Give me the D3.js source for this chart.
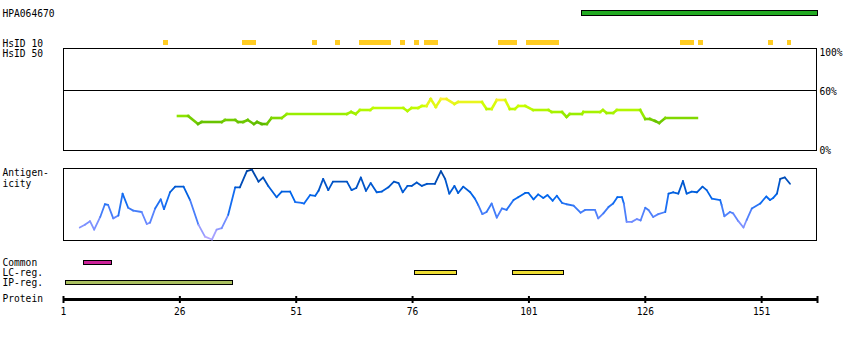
<!DOCTYPE html>
<html>
<head>
<meta charset="utf-8">
<script src="https://cdn.jsdelivr.net/npm/d3@7"></script>
<style>
  body { margin: 0; background: #fff; }
  text { font-family: "DejaVu Sans Mono", monospace; font-size: 9.6px; fill: #000; }
  .crisp { shape-rendering: crispEdges; }
</style>
</head>
<body>
<div id="chart"></div>
<script>
// protein length and tick labels
var proteinLength = 163;
var tickResidues = [1, 26, 51, 76, 101, 126, 151];

// antibody target region (HPA064670)
var hpaRegion = [113, 163];

// HsID 10 stretches (start, end residue)
var hsid10Start = [23, 40, 55, 60, 65, 74, 77, 79, 95, 101, 134, 138, 153, 157];
var hsid10End   = [23, 42, 55, 60, 71, 74, 77, 81, 98, 107, 136, 138, 153, 157];

// region tracks
var commonRegions = [[6, 11]];
var lcRegions = [[77, 85], [98, 108]];
var ipRegions = [[2, 37]];

// identity (%) along the sequence
var identityPos = [25.7, 27.9, 30.0, 30.8, 35.1, 35.8, 38.0, 38.6, 39.7, 40.7, 42.0, 42.7, 43.7, 44.8,
  45.8, 48.0, 49.1, 62.0, 62.9, 63.9, 64.8, 67.0, 67.6, 74.1, 75.0, 75.9, 77.3, 78.1, 79.1, 80.0,
  81.1, 82.2, 83.4, 85.1, 85.9, 91.0, 92.0, 93.1, 94.2, 96.0, 97.0, 98.1, 98.8, 100.3, 102.0,
  105.3, 106.0, 108.2, 109.2, 109.9, 112.5, 112.8, 116.4, 117.0, 117.8, 119.2, 120.0, 125.0,
  126.1, 127.1, 128.2, 129.1, 130.4, 137.2];
var identityVal = [34, 34, 26, 28, 28, 30, 30, 28, 28, 30, 26, 28, 26, 26,
  32, 32, 36, 36, 38, 36, 40, 40, 42, 42, 39, 42, 42, 44, 44, 51,
  43, 51, 51, 46, 48, 48, 41, 41, 50, 50, 41, 41, 44, 44, 40,
  40, 38, 38, 33, 36, 36, 38, 38, 40, 37, 37, 40, 40,
  31, 31, 29, 27, 32, 32];

// antigenicity score (0-100) along the sequence
var antigenPos = [4.6, 5.7, 6.8, 7.7, 9.0, 10.0, 10.7, 11.8, 12.9, 13.8, 15.0, 16.1, 17.9, 19.0, 19.7,
  20.8, 22.0, 22.7, 24.0, 25.1, 26.9, 28.3, 30.1, 31.5, 33.0, 34.0, 35.1, 36.5, 38.0, 39.0,
  40.5, 41.6, 43.0, 44.0, 45.1, 46.9, 48.0, 49.8, 50.9, 52.3, 52.8, 54.1, 55.2, 55.9, 56.9,
  58.0, 59.0, 62.0, 63.0, 64.0, 65.0, 66.1, 67.1, 68.4, 69.5, 70.9, 72.1, 73.1, 74.0, 75.0,
  75.9, 77.0, 78.1, 79.2, 80.9, 82.2, 83.1, 84.0, 85.1, 85.9, 87.0, 88.5, 89.5, 90.2, 91.1,
  92.0, 93.1, 94.2, 95.3, 96.3, 97.8, 98.8, 100.3, 101.0, 102.1, 103.1, 104.2, 105.1, 106.2,
  107.1, 108.2, 109.2, 110.7, 112.2, 113.2, 115.3, 116.0, 117.1, 118.2, 119.2, 120.1, 121.1,
  121.5, 122.1, 123.2, 124.3, 125.1, 126.1, 126.8, 127.8, 128.9, 130.4, 131.1, 132.1, 133.2,
  134.2, 135.0, 136.1, 137.2, 138.4, 139.3, 140.4, 142.2, 142.5, 143.1, 144.3, 145.0, 146.1,
  147.2, 147.9, 149.0, 150.8, 152.1, 152.9, 153.6, 154.4, 155.1, 156.1, 157.2];
var antigenVal = [17, 21, 26, 14, 32, 50, 49, 30, 34, 65, 45, 41, 39, 22, 24,
  44, 57, 43, 67, 75, 75, 56, 21, 4, 0, 14, 16, 35, 74, 74,
  97, 99, 82, 88, 76, 60, 68, 68, 53, 52, 51, 63, 62, 69, 86,
  70, 82, 82, 70, 73, 88, 69, 80, 67, 68, 74, 82, 80, 67, 76,
  76, 81, 76, 79, 79, 97, 86, 65, 76, 66, 75, 67, 58, 49, 36,
  39, 51, 31, 44, 42, 56, 60, 66, 66, 57, 64, 59, 63, 55,
  62, 52, 50, 48, 38, 42, 42, 30, 37, 46, 51, 60, 60,
  51, 25, 25, 29, 27, 45, 42, 32, 36, 39, 65, 67, 65,
  83, 65, 68, 67, 75, 70, 58, 56, 49, 33, 39, 37, 26,
  17, 28, 44, 51, 61, 56, 59, 65, 86, 88, 79];

var svg = d3.select("#chart").append("svg")
  .attr("width", 850)
  .attr("height", 340);

var x = d3.scaleLinear().domain([1, proteinLength]).range([63, 817]);
var yId = d3.scaleLinear().domain([0, 100]).range([150, 50]);
var yAg = d3.scaleLinear().domain([0, 100]).range([239.5, 169]);

var idColor = d3.scaleLinear()
  .domain([26, 36, 44, 51])
  .range(["#5cb800", "#99ee00", "#ccff00", "#ffee33"]);
var agColor = d3.scaleLinear()
  .domain([0, 30, 60, 100])
  .range(["#b8a8ff", "#6688ff", "#0066ee", "#003f99"]);

// left labels
var labels = [
  ["HPA064670", 16.5], ["HsID 10", 46.5], ["HsID 50", 56.5],
  ["Antigen-", 176], ["icity", 186.5],
  ["Common", 266], ["LC-reg.", 276], ["IP-reg.", 286], ["Protein", 302]
];
svg.selectAll("text.lbl").data(labels).enter().append("text")
  .attr("class", "lbl")
  .attr("x", 2.5)
  .attr("y", d => d[1])
  .text(d => d[0]);

// HPA bar
svg.append("rect")
  .attr("class", "crisp")
  .attr("x", x(hpaRegion[0] - 0.5))
  .attr("y", 10.5)
  .attr("width", x(hpaRegion[1]) - x(hpaRegion[0] - 0.5))
  .attr("height", 4.5)
  .attr("fill", "#22aa22")
  .attr("stroke", "#000")
  .attr("stroke-width", 1);

// HsID 10 bars
svg.selectAll("rect.hsid").data(hsid10Start).enter().append("rect")
  .attr("class", "hsid crisp")
  .attr("x", d => x(d - 0.5))
  .attr("y", 40)
  .attr("width", (d, i) => x(hsid10End[i] + 0.5) - x(d - 0.5))
  .attr("height", 4.5)
  .attr("fill", "#ffcc22");

// identity panel
svg.append("rect")
  .attr("class", "crisp")
  .attr("x", 63.5).attr("y", 48.5)
  .attr("width", 753).attr("height", 101.5)
  .attr("fill", "none").attr("stroke", "#000").attr("stroke-width", 1);
svg.append("line")
  .attr("class", "crisp")
  .attr("x1", 63.5).attr("x2", 816.5)
  .attr("y1", 90.5).attr("y2", 90.5)
  .attr("stroke", "#000").attr("stroke-width", 1);
svg.selectAll("text.pct").data([[100, 55.5], [60, 95], [0, 154]]).enter().append("text")
  .attr("class", "pct")
  .attr("x", 819.5)
  .attr("y", d => d[1])
  .text(d => d[0] + "%");

var idSegs = d3.pairs(d3.range(identityPos.length));
svg.append("g").selectAll("line").data(idSegs).enter().append("line")
  .attr("x1", d => x(identityPos[d[0]]))
  .attr("y1", d => yId(identityVal[d[0]]))
  .attr("x2", d => x(identityPos[d[1]]))
  .attr("y2", d => yId(identityVal[d[1]]))
  .attr("stroke", d => idColor((identityVal[d[0]] + identityVal[d[1]]) / 2))
  .attr("stroke-width", 2.6)
  .attr("stroke-linecap", "square");

// antigenicity panel
svg.append("rect")
  .attr("class", "crisp")
  .attr("x", 63.5).attr("y", 168.5)
  .attr("width", 753).attr("height", 71.5)
  .attr("fill", "none").attr("stroke", "#000").attr("stroke-width", 1);

var agSegs = d3.pairs(d3.range(antigenPos.length));
svg.append("g").selectAll("line").data(agSegs).enter().append("line")
  .attr("x1", d => x(antigenPos[d[0]]))
  .attr("y1", d => yAg(antigenVal[d[0]]))
  .attr("x2", d => x(antigenPos[d[1]]))
  .attr("y2", d => yAg(antigenVal[d[1]]))
  .attr("stroke", d => agColor((antigenVal[d[0]] + antigenVal[d[1]]) / 2))
  .attr("stroke-width", 1.8)
  .attr("stroke-linecap", "round");

// region tracks
function drawRegions(data, yPos, fill) {
  svg.append("g").selectAll("rect").data(data).enter().append("rect")
    .attr("class", "crisp")
    .attr("x", d => x(d[0] - 0.5))
    .attr("y", yPos)
    .attr("width", d => x(d[1] + 0.5) - x(d[0] - 0.5))
    .attr("height", 4)
    .attr("fill", fill)
    .attr("stroke", "#000")
    .attr("stroke-width", 1);
}
drawRegions(commonRegions, 260.5, "#cc2299");
drawRegions(lcRegions, 270.5, "#eedd33");
drawRegions(ipRegions, 280.5, "#aac060");

// protein axis
var axis = d3.axisBottom(x)
  .tickValues(tickResidues.concat([proteinLength]))
  .tickFormat(d => tickResidues.indexOf(d) >= 0 ? d : "")
  .tickSize(4)
  .tickSizeOuter(0);

var axisG = svg.append("g")
  .attr("transform", "translate(0,299)")
  .call(axis);
axisG.select(".domain").attr("stroke-width", 3);
axisG.selectAll(".tick line").attr("stroke-width", 2).attr("y1", -3);
axisG.selectAll(".tick text")
  .attr("y", 9)
  .style("font-family", "'DejaVu Sans Mono', monospace")
  .style("font-size", "9.6px");
</script>
</body>
</html>
